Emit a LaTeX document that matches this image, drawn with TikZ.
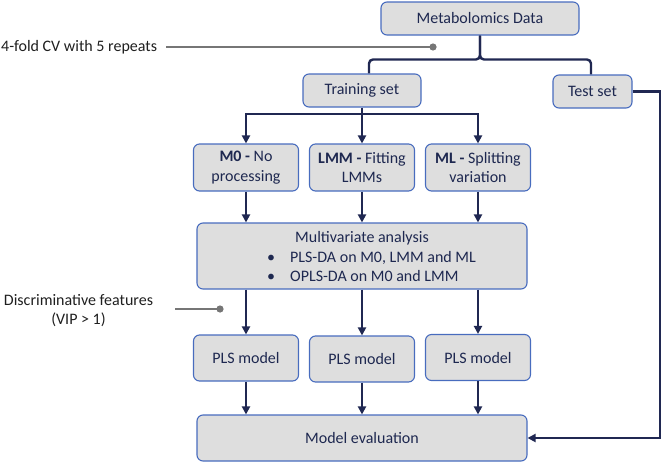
\documentclass[tikz,border=0pt]{standalone}
\usepackage{fontspec}
\setmainfont{Carlito}
\usetikzlibrary{arrows.meta}
\definecolor{boxfill}{RGB}{222,222,222}
\definecolor{boxdraw}{RGB}{72,108,190}
\definecolor{navy}{RGB}{32,40,82}
\definecolor{txtnavy}{RGB}{30,40,80}
\definecolor{gline}{RGB}{118,118,118}
\begin{document}
\begin{tikzpicture}[x=1pt,y=-1pt,
  box/.style={draw=boxdraw, fill=boxfill, line width=1.1pt, rounded corners=6pt,
    inner sep=0pt, align=center, text=txtnavy, font=\fontsize{16}{19.5}\selectfont},
  conn/.style={draw=navy, line width=2.4pt},
  arr/.style={conn, -{Triangle[length=8pt,width=8pt]}},
  gl/.style={draw=gline, line width=2pt},
  lbl/.style={text=black!88, inner sep=0pt, align=center, font=\fontsize{16}{19.5}\selectfont},
  intext/.style={text=txtnavy, inner sep=0pt, font=\fontsize{16}{19.5}\selectfont}
]
\useasboundingbox (0,0) rectangle (664,463);

% boxes
\node[box, minimum width=198pt, minimum height=33pt] (md) at (480,18.5) {Metabolomics Data};
\node[box, minimum width=118pt, minimum height=33pt] (tr) at (362,90.5) {Training set};
\node[box, minimum width=79pt, minimum height=33pt] (ts) at (592.5,91.5) {Test set};
\node[box, minimum width=105pt, minimum height=47pt] (m0) at (246,167.5) {\textbf{M0 -} No\\processing};
\node[box, minimum width=105pt, minimum height=47pt] (lmm) at (362,167.5) {\textbf{LMM -} Fitting\\LMMs};
\node[box, minimum width=105pt, minimum height=47pt] (ml) at (478,167.5) {\textbf{ML -} Splitting\\variation};
\node[box, minimum width=330pt, minimum height=66pt] (mv) at (362,256) {};
\node[intext, anchor=base] (mvt) at (362,242) {Multivariate analysis};
\node[intext, anchor=base] (b1) at (271,262) {\textbullet};
\node[intext, anchor=base west] (t1) at (290,262) {PLS-DA on M0, LMM and ML};
\node[intext, anchor=base] (b2) at (271,281.3) {\textbullet};
\node[intext, anchor=base west] (t2) at (290,281.3) {OPLS-DA on M0 and LMM};
\node[box, minimum width=105pt, minimum height=46pt] (p1) at (246,358) {PLS model};
\node[box, minimum width=105pt, minimum height=46pt] (p2) at (362,359) {PLS model};
\node[box, minimum width=105pt, minimum height=46pt] (p3) at (478,357.5) {PLS model};
\node[box, minimum width=330pt, minimum height=46pt] (ev) at (362,438) {Model evaluation};

% side labels
\node[lbl, anchor=west] (cv) at (1,47) {4-fold CV with 5 repeats};
\coordinate (cvdot) at (433,47);
\draw[gl] ([xshift=9pt]cv.east) -- (cvdot);
\fill[gline] (cvdot) circle (3.6pt);

\node[lbl] (df) at (78.5,310.5) {Discriminative features\\(VIP > 1)};
\coordinate (dfs) at (175,309);
\coordinate (dfdot) at (220,309);
\draw[gl] (dfs) -- (dfdot);
\fill[gline] (dfdot) circle (3.6pt);

% bracket from Metabolomics Data
\coordinate (bj) at (480,59.5);
\coordinate (bl) at (369,59.5);
\coordinate (br) at (591,59.5);
\draw[conn, rounded corners=4pt] (md.south) -- (bj) -- (bl) -- (bl |- tr.north);
\draw[conn, rounded corners=4pt] (md.south) -- (bj) -- (br) -- (br |- ts.north);

% training split
\coordinate (jt) at (362,114);
\draw[conn] (tr.south) -- (jt);
\draw[arr] (jt) -| (m0.north);
\draw[arr] (jt) -| (ml.north);
\draw[arr] (jt) -- (lmm.north);

% to multivariate
\draw[arr] (m0.south) -- (m0.south |- mv.north);
\draw[arr] (lmm.south) -- (lmm.south |- mv.north);
\draw[arr] (ml.south) -- (ml.south |- mv.north);

% to PLS models
\draw[arr] (p1.north |- mv.south) -- (p1.north);
\draw[arr] (p2.north |- mv.south) -- (p2.north);
\draw[arr] (p3.north |- mv.south) -- (p3.north);

% to evaluation
\draw[arr] (p1.south) -- (p1.south |- ev.north);
\draw[arr] (p2.south) -- (p2.south |- ev.north);
\draw[arr] (p3.south) -- (p3.south |- ev.north);

% test set path
\coordinate (tc) at (660,91.5);
\draw[arr] (ts.east) -- (tc) |- (ev.east);
\end{tikzpicture}
\end{document}
